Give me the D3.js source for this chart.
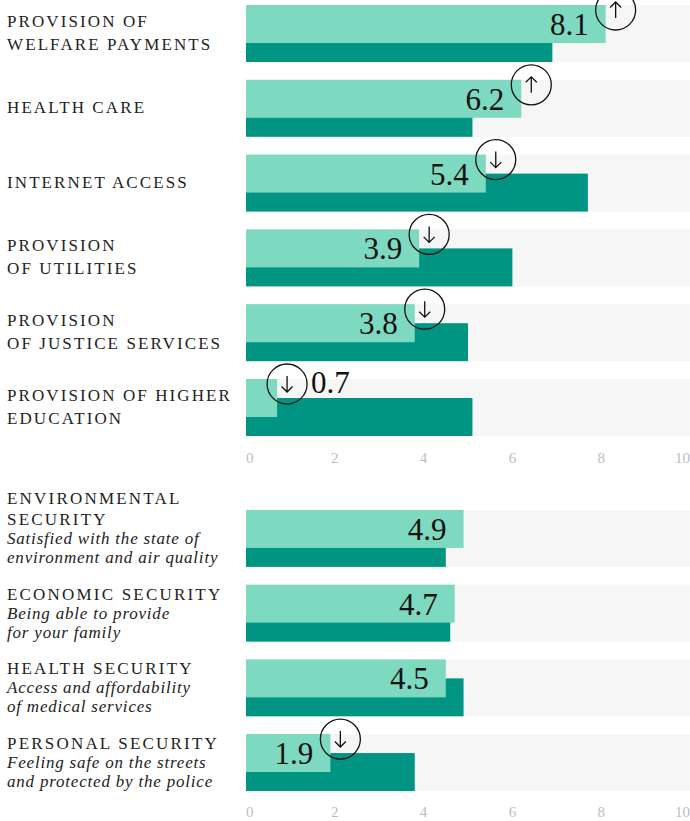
<!DOCTYPE html>
<html>
<head>
<meta charset="utf-8">
<script src="https://cdn.jsdelivr.net/npm/d3@7"></script>
<style>
  html, body { margin: 0; padding: 0; background: #fff; }
  svg { display: block; }
</style>
</head>
<body>
<main></main>
<script>
// services block
const serviceLabels = [
  ["PROVISION OF", "WELFARE PAYMENTS"],
  ["HEALTH CARE"],
  ["INTERNET ACCESS"],
  ["PROVISION", "OF UTILITIES"],
  ["PROVISION", "OF JUSTICE SERVICES"],
  ["PROVISION OF HIGHER", "EDUCATION"],
];
const serviceCurrent = [8.1, 6.2, 5.4, 3.9, 3.8, 0.7];
const servicePrevious = [6.9, 5.1, 7.7, 6.0, 5.0, 5.1];
const serviceTrend = ["up", "up", "down", "down", "down", "down"];

// security block
const securityLabels = [
  ["ENVIRONMENTAL", "SECURITY"],
  ["ECONOMIC SECURITY"],
  ["HEALTH SECURITY"],
  ["PERSONAL SECURITY"],
];
const securityNotes = [
  ["Satisfied with the state of", "environment and air quality"],
  ["Being able to provide", "for your family"],
  ["Access and affordability", "of medical services"],
  ["Feeling safe on the streets", "and protected by the police"],
];
const securityCurrent = [4.9, 4.7, 4.5, 1.9];
const securityPrevious = [4.5, 4.6, 4.9, 3.8];
const securityTrend = [null, null, null, "down"];

const tickValues = [0, 2, 4, 6, 8, 10];

const width = 690, height = 821;
const serif = "'Liberation Serif', 'DejaVu Serif', serif";
const lightColor = "#7dd9bf";
const darkColor = "#009582";
const bgColor = "#f6f6f6";

const svg = d3.select("main").append("svg")
  .attr("width", width)
  .attr("height", height);

const x = d3.scaleLinear().domain([0, 10]).range([246, 690]);

function block(g, labels, current, previous, trend, notes, yRange, axisY) {
  const idx = labels.map((d, i) => i);
  const y = d3.scaleBand().domain(idx).range(yRange).paddingInner(0.238).paddingOuter(0);
  const bw = y.bandwidth();
  const barH = bw * 2 / 3;

  const rows = g.selectAll("g.row").data(idx).enter().append("g")
    .attr("class", "row")
    .attr("transform", (i) => `translate(0,${y(i)})`);

  rows.append("rect")
    .attr("x", x(0)).attr("y", 0)
    .attr("width", x(10) - x(0)).attr("height", bw)
    .attr("fill", bgColor);

  rows.append("rect")
    .attr("x", x(0)).attr("y", bw - barH)
    .attr("width", (i) => x(previous[i]) - x(0)).attr("height", barH)
    .attr("fill", darkColor);

  rows.append("rect")
    .attr("x", x(0)).attr("y", 0)
    .attr("width", (i) => x(current[i]) - x(0)).attr("height", barH)
    .attr("fill", lightColor);

  // value labels
  rows.append("text")
    .attr("font-family", serif)
    .attr("font-size", "31px")
    .attr("fill", "#111")
    .each(function (i) {
      const end = x(current[i]);
      const t = d3.select(this);
      if (end - x(0) < 60) {
        t.attr("x", end + 34).attr("y", 14).attr("text-anchor", "start");
      } else {
        t.attr("x", end - 17).attr("y", 30).attr("text-anchor", "end");
      }
    })
    .text((i) => current[i].toFixed(1));

  // trend arrows
  const arrows = rows.filter((i) => trend[i])
    .append("g")
    .attr("transform", (i) => `translate(${x(current[i]) + 10},5)`);
  arrows.append("circle")
    .attr("r", 20)
    .attr("fill", "none")
    .attr("stroke", "#111")
    .attr("stroke-width", 1.3);
  arrows.append("path")
    .attr("d", (i) => trend[i] === "up"
      ? "M0,8 L0,-8 M-5.5,-2.5 L0,-8 L5.5,-2.5"
      : "M0,-8 L0,8 M-5.5,2.5 L0,8 L5.5,2.5")
    .attr("fill", "none")
    .attr("stroke", "#111")
    .attr("stroke-width", 1.3);

  // category labels
  rows.each(function (i) {
    const r = d3.select(this);
    const caps = labels[i];
    const note = notes ? notes[i] : null;
    if (!note) {
      const lh = 23;
      const first = 33 - (caps.length - 1) * lh / 2;
      caps.forEach((line, k) => {
        r.append("text")
          .attr("x", 7).attr("y", first + k * lh)
          .attr("font-family", serif)
          .attr("font-size", "17px")
          .attr("letter-spacing", "2.1px")
          .attr("fill", "#222")
          .text(line);
      });
    } else {
      // bottom anchored: italic notes then caps above
      let base = 53;
      const lines = [];
      for (let k = note.length - 1; k >= 0; k--) {
        lines.push({ text: note[k], y: base, italic: true });
        base -= 19;
      }
      for (let k = caps.length - 1; k >= 0; k--) {
        lines.push({ text: caps[k], y: base, italic: false });
        base -= 21;
      }
      lines.forEach((l) => {
        r.append("text")
          .attr("x", 7).attr("y", l.y)
          .attr("font-family", serif)
          .attr("font-size", "17px")
          .attr("font-style", l.italic ? "italic" : "normal")
          .attr("letter-spacing", l.italic ? "0.8px" : "2.2px")
          .attr("fill", "#222")
          .text(l.text);
      });
    }
  });

  // axis
  const axis = g.append("g").attr("transform", `translate(0,${axisY})`);
  axis.selectAll("text").data(tickValues).enter().append("text")
    .attr("x", (d) => x(d))
    .attr("text-anchor", (d, k) => k === 0 ? "start" : (k === tickValues.length - 1 ? "end" : "middle"))
    .attr("font-family", serif)
    .attr("font-size", "15px")
    .attr("fill", "#bdbdbd")
    .text((d) => d);
}

block(svg.append("g"), serviceLabels, serviceCurrent, servicePrevious, serviceTrend, null, [5, 436], 463);
block(svg.append("g"), securityLabels, securityCurrent, securityPrevious, securityTrend, securityNotes, [510, 791], 817);
</script>
</body>
</html>
